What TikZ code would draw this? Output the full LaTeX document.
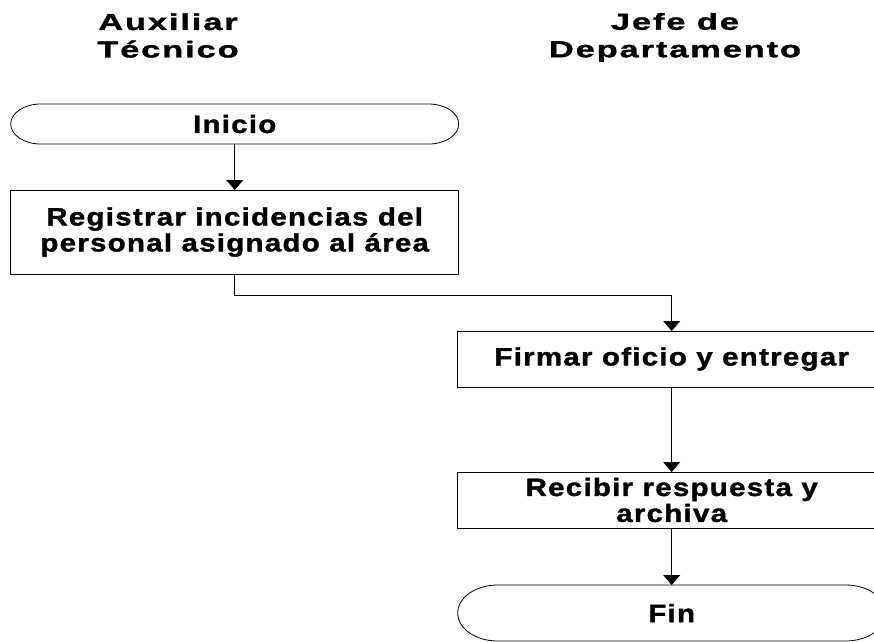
\documentclass[tikz,border=0pt]{standalone}
\usepackage{fontspec}
\setmainfont{Liberation Sans}
\newfontfamily\boxfont[FakeStretch=1.18,LetterSpace=5,FakeBold=1.4]{Liberation Sans Bold}
\newfontfamily\headfont[FakeStretch=1.5,LetterSpace=8,FakeBold=1.4]{Liberation Sans Bold}
\usetikzlibrary{arrows.meta}
\newcommand{\termoutline}[3]{%
  \draw[lineal] ([xshift=#2]#1.north west) -- ([xshift=-#2]#1.north east)
    arc[start angle=90,end angle=-90,x radius=#2,y radius=#3]
    -- ([xshift=#2]#1.south west)
    arc[start angle=270,end angle=90,x radius=#2,y radius=#3] -- cycle;}
\begin{document}
\begin{tikzpicture}[x=1pt,y=-1pt,
  every node/.style={inner sep=0pt,outer sep=0pt},
  lineal/.style={line width=0.8pt,draw=black},
  txt/.style={font=\boxfont\fontsize{25}{26}\selectfont,align=center},
  head/.style={font=\headfont\fontsize{23}{27.5}\selectfont,align=center},
  procbox/.style={txt,lineal,rectangle},
  termbox/.style={txt,rectangle},
  arr/.style={lineal,-{Triangle[length=10pt,width=17pt]}}
]
\path[use as bounding box,clip] (0,0) rectangle (874,641);
\fill[white] (0,0) rectangle (874,641);

% headers
\node[head] (h1) at (168,35.5) {Auxiliar\\Técnico};
\node[head] (h2) at (675,37.5) {Jefe de\\Departamento};

% left column
\node[termbox,minimum width=448pt,minimum height=40pt] (ini) at (234.7,124) {Inicio};
\termoutline{ini}{30pt}{20pt}
\node[procbox,minimum width=448pt,minimum height=84pt] (reg) at (234.7,232)
  {Registrar incidencias del\\personal asignado al área};

% right column
\node[procbox,minimum width=429pt,minimum height=56pt] (fir) at (671.7,359)
  {Firmar oficio y entregar};
\node[procbox,minimum width=429pt,minimum height=56pt] (rec) at (671.7,500)
  {Recibir respuesta y\\archiva};
\node[termbox,minimum width=428pt,minimum height=56pt] (fin) at (671.7,613) {Fin};
\termoutline{fin}{40pt}{28pt}

% connectors
\draw[arr] (ini) -- (reg);
\draw[arr] (reg.south) -- ++(0,21.5) -| (fir.north);
\draw[arr] (fir) -- (rec);
\draw[arr] (rec) -- (fin);
\end{tikzpicture}
\end{document}
